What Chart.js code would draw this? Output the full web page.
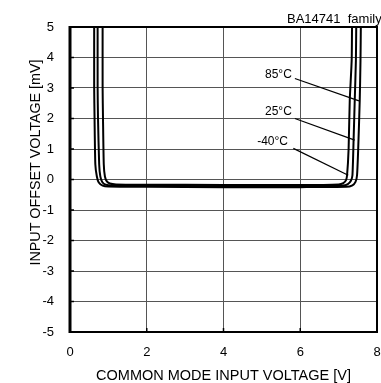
<!DOCTYPE html>
<html>
<head>
<meta charset="utf-8">
<script src="https://cdn.jsdelivr.net/npm/chart.js@4.4.1/dist/chart.umd.min.js"></script>
<style>
  body { margin: 0; background: #fff; }
  canvas { display: block; }
</style>
</head>
<body>
<canvas id="vioChart" width="381" height="383"></canvas>
<script>
// input offset voltage vs common mode input voltage, three temperatures
const vin85 = [0.63, 0.63, 0.64, 0.66, 0.70, 0.75, 0.85, 1.0, 2, 4, 6, 7.2, 7.36, 7.44, 7.48, 7.51, 7.55, 7.57, 7.58];
const vos85 = [5.2, 3.0, 2.0, 0.5, 0.1, -0.1, -0.2, -0.23, -0.24, -0.25, -0.25, -0.24, -0.19, -0.08, 0.14, 1.0, 2.6, 3.9, 5.2];

const vin25 = [0.72, 0.72, 0.73, 0.76, 0.79, 0.84, 0.93, 1.1, 2, 4, 6, 7.1, 7.24, 7.32, 7.36, 7.39, 7.42, 7.45, 7.46];
const vos25 = [5.2, 3.0, 2.0, 0.5, 0.1, -0.08, -0.17, -0.2, -0.21, -0.22, -0.22, -0.2, -0.15, -0.04, 0.14, 1.29, 2.6, 3.9, 5.2];

const vinM40 = [0.85, 0.85, 0.86, 0.88, 0.91, 0.96, 1.04, 1.2, 2, 4, 6, 7.0, 7.12, 7.19, 7.22, 7.26, 7.29, 7.34, 7.35];
const vosM40 = [5.2, 3.0, 2.0, 0.5, 0.1, -0.06, -0.13, -0.16, -0.17, -0.18, -0.18, -0.16, -0.12, -0.03, 0.14, 1.0, 2.6, 3.9, 5.2];

// temperature labels and their leader lines (label end -> curve)
const tempLabels = ["85°C", "25°C", "-40°C"];
const labelX = [5.78, 5.78, 5.68];
const labelY = [3.45, 2.22, 1.23];
const leaderFrom = [[5.86, 3.31], [5.86, 2.0], [5.82, 1.02]];
const leaderTo = [[7.53, 2.58], [7.42, 1.29], [7.25, 0.14]];

const xTicks = [0, 2, 4, 6, 8];
const yTicks = [-5, -4, -3, -2, -1, 0, 1, 2, 3, 4, 5];

const FONT = "'Liberation Sans', Arial, sans-serif";

function toPoints(xs, ys) {
  return xs.map((x, i) => ({ x, y: ys[i] }));
}

function curve(xs, ys) {
  return {
    data: toPoints(xs, ys),
    showLine: true,
    borderColor: "#000",
    borderWidth: 2,
    pointRadius: 0,
    tension: 0.2,
    clip: 0
  };
}

function leader(i) {
  return {
    data: [
      { x: leaderFrom[i][0], y: leaderFrom[i][1] },
      { x: leaderTo[i][0], y: leaderTo[i][1] }
    ],
    showLine: true,
    borderColor: "#000",
    borderWidth: 1.2,
    pointRadius: 0
  };
}

// frame, inward tick marks and the free text
const decorations = {
  id: "decorations",
  afterDatasetsDraw(chart) {
    const { ctx, chartArea: a, scales } = chart;
    const xs = scales.x, ys = scales.y;
    ctx.save();
    ctx.strokeStyle = "#000";

    ctx.lineWidth = 1.5;
    yTicks.forEach(v => {
      const py = ys.getPixelForValue(v);
      ctx.beginPath();
      ctx.moveTo(a.left, py);
      ctx.lineTo(a.left + 4, py);
      ctx.stroke();
    });
    xTicks.forEach(v => {
      const px = xs.getPixelForValue(v);
      ctx.beginPath();
      ctx.moveTo(px, a.bottom);
      ctx.lineTo(px, a.bottom - 4);
      ctx.stroke();
    });

    ctx.lineWidth = 2;
    ctx.strokeRect(a.left, a.top, a.right - a.left, a.bottom - a.top);
    ctx.lineWidth = 3;
    ctx.beginPath();
    ctx.moveTo(a.left, a.top - 1);
    ctx.lineTo(a.left, a.bottom + 1);
    ctx.stroke();

    ctx.fillStyle = "#000";
    ctx.font = "12px " + FONT;
    ctx.textAlign = "right";
    ctx.textBaseline = "middle";
    tempLabels.forEach((t, i) => {
      ctx.fillText(t, xs.getPixelForValue(labelX[i]), ys.getPixelForValue(labelY[i]));
    });

    ctx.font = "13px " + FONT;
    ctx.textAlign = "left";
    ctx.fillText("BA14741  family", 287, 19);

    ctx.font = "14.3px " + FONT;
    ctx.textAlign = "center";
    ctx.translate(36, 162.5);
    ctx.rotate(-Math.PI / 2);
    ctx.fillText("INPUT OFFSET VOLTAGE [mV]", 0, 0);
    ctx.restore();
  }
};

new Chart(document.getElementById("vioChart").getContext("2d"), {
  type: "scatter",
  data: {
    datasets: [
      curve(vin85, vos85),
      curve(vin25, vos25),
      curve(vinM40, vosM40),
      leader(0),
      leader(1),
      leader(2)
    ]
  },
  options: {
    responsive: false,
    animation: false,
    layout: { padding: { top: 27, right: 4, left: 0, bottom: 0 } },
    plugins: {
      legend: { display: false },
      tooltip: { enabled: false }
    },
    scales: {
      x: {
        type: "linear",
        min: 0,
        max: 8,
        afterBuildTicks: s => { s.ticks = xTicks.map(v => ({ value: v })); },
        afterFit: s => { s.height = 51; },
        ticks: { color: "#000", padding: 0, font: { family: FONT, size: 13 } },
        grid: { color: "#555", lineWidth: 1, drawTicks: true, tickLength: 13, tickColor: "rgba(0,0,0,0)" },
        border: { display: false },
        title: {
          display: true,
          text: "COMMON MODE INPUT VOLTAGE [V]",
          color: "#000",
          padding: 0,
          font: { family: FONT, size: 14.5, lineHeight: 1 }
        }
      },
      y: {
        type: "linear",
        min: -5,
        max: 5,
        afterBuildTicks: s => { s.ticks = yTicks.map(v => ({ value: v })); },
        afterFit: s => { s.width = 70; },
        ticks: { color: "#000", padding: 0, font: { family: FONT, size: 13 } },
        grid: { color: "#555", lineWidth: 1, drawTicks: true, tickLength: 16, tickColor: "rgba(0,0,0,0)" },
        border: { display: false }
      }
    }
  },
  plugins: [decorations]
});
</script>
</body>
</html>
